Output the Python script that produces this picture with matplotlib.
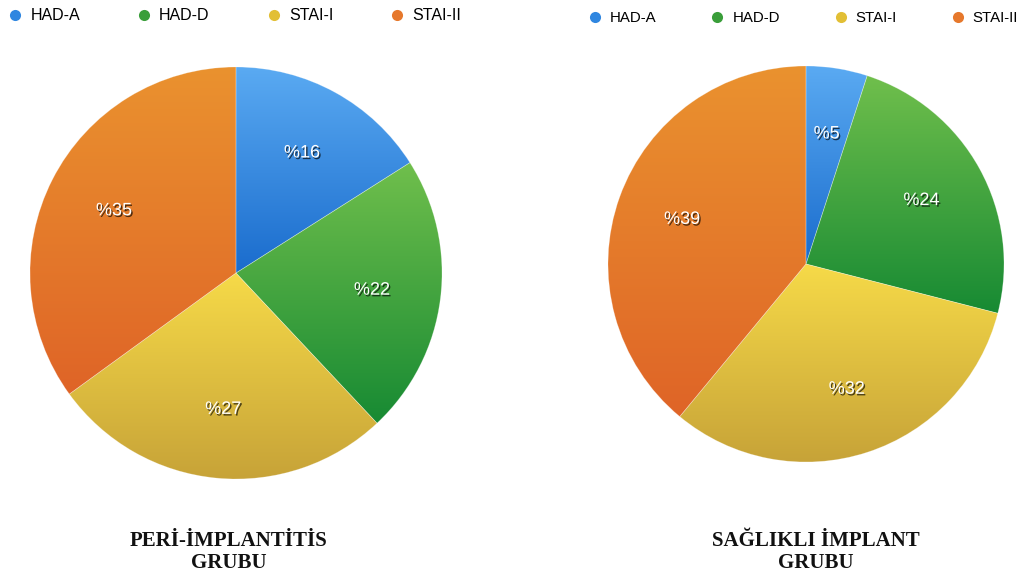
import numpy as np
import matplotlib
matplotlib.use("Agg")
import matplotlib.pyplot as plt
import matplotlib.patheffects as pe
from matplotlib.lines import Line2D

# anxiety scale shares (%) per group
labels = ["HAD-A", "HAD-D", "STAI-I", "STAI-II"]
peri_values = [16, 22, 27, 35]
healthy_values = [5, 24, 32, 39]
titles = ["PERİ-İMPLANTİTİS\nGRUBU", "SAĞLIKLI İMPLANT\nGRUBU"]

# top/bottom gradient colours for each wedge
top_colors = ["#5aaaf2", "#70bf4c", "#f6da48", "#ea922f"]
bottom_colors = ["#1a6ccd", "#178a33", "#c7a338", "#df6427"]
legend_colors = ["#2f86e0", "#3a9e3a", "#e2bf35", "#e6782c"]

W, H = 1024, 578
fig = plt.figure(figsize=(W / 100, H / 100), dpi=100)
fig.patch.set_facecolor("white")


def hex_rgb(h):
    return np.array(matplotlib.colors.to_rgb(h))


def gradient_pie(ax, values):
    wedges, _, autotexts = ax.pie(values, startangle=90, counterclock=False,
                                  autopct=lambda p: f"%{p:.0f}", pctdistance=0.665,
                                  wedgeprops=dict(facecolor="none", edgecolor="none"),
                                  textprops=dict(color="white", fontsize=13,
                                                 family="Liberation Sans"))
    for i, w in enumerate(wedges):
        ext = w.get_path().get_extents()
        t = np.linspace(0, 1, 256)[:, None]
        grad = (1 - t) * hex_rgb(top_colors[i]) + t * hex_rgb(bottom_colors[i])
        img = ax.imshow(grad[:, None, :], extent=(ext.x0, ext.x1, ext.y0, ext.y1),
                        origin="upper", aspect="auto", interpolation="bilinear", zorder=1)
        img.set_clip_path(w)
        w.set_edgecolor((1, 1, 1, 0.3))
        w.set_linewidth(0.5)
        w.set_zorder(2)
    for t in autotexts:
        t.set_zorder(3)
        t.set_path_effects([pe.SimplePatchShadow(offset=(1.0, -1.2), shadow_rgbFace="black", alpha=0.65),
                            pe.Normal()])
    ax.set_xlim(-1, 1)
    ax.set_ylim(-1, 1)
    ax.set_aspect("equal")
    ax.axis("off")


def pix_axes(cx, cy, r):
    return fig.add_axes([(cx - r) / W, (H - cy - r) / H, 2 * r / W, 2 * r / H])


ax1 = pix_axes(236, 273, 206)
gradient_pie(ax1, peri_values)
ax2 = pix_axes(806, 264, 198)
gradient_pie(ax2, healthy_values)

handles = [Line2D([], [], marker="o", linestyle="none", markersize=8,
                  markerfacecolor=c, markeredgecolor="none") for c in legend_colors]
fig.legend(handles, labels, loc="center left", bbox_to_anchor=(9 / W, 1 - 16 / H),
           ncol=4, frameon=False, handlelength=0.8, handletextpad=0.55,
           columnspacing=3.6, borderpad=0, borderaxespad=0,
           prop=dict(family="Liberation Sans", size=11.5))
fig.legend(handles, labels, loc="center left", bbox_to_anchor=(589 / W, 1 - 18 / H),
           ncol=4, frameon=False, handlelength=0.8, handletextpad=0.6,
           columnspacing=3.65, borderpad=0, borderaxespad=0,
           prop=dict(family="Liberation Sans", size=10.8))

for x, title in zip([229, 816], titles):
    fig.text(x / W, 1 - 552 / H, title, ha="center", va="center", fontsize=15,
             fontweight="bold", family="Liberation Serif", linespacing=1.1, color="#111111")

fig.savefig("out.png", dpi=100, facecolor="white")
